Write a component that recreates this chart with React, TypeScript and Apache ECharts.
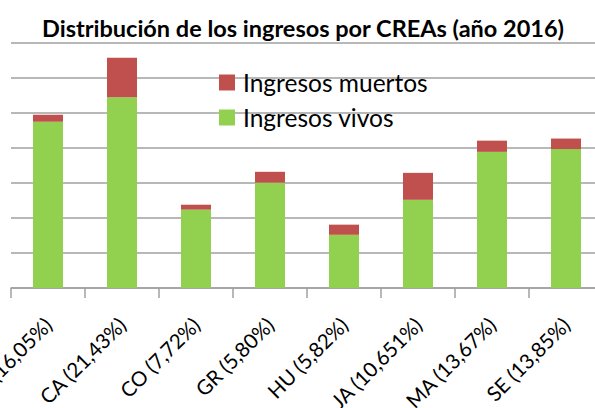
import React, { useEffect, useRef } from "react";
import * as echarts from "echarts";

const categories = [
  "AL (16,05%)",
  "CA (21,43%)",
  "CO (7,72%)",
  "GR (5,80%)",
  "HU (5,82%)",
  "JA (10,651%)",
  "MA (13,67%)",
  "SE (13,85%)",
];
const ingresosVivos = [4.75, 5.45, 2.24, 3.01, 1.52, 2.52, 3.89, 3.97];
const ingresosMuertos = [0.2, 1.13, 0.14, 0.31, 0.29, 0.77, 0.32, 0.3];
const yTicks = { min: 0, max: 7, interval: 1 };

const FONT = "Lato";

export default function App() {
  const ref = useRef<HTMLDivElement>(null);
  useEffect(() => {
    if (!ref.current) return;
    const chart = echarts.init(ref.current, null, { renderer: "svg" });
    chart.setOption({
      animation: false,
      backgroundColor: "#ffffff",
      title: {
        text: "Distribución de los ingresos por CREAs (año 2016)",
        left: 298,
        textAlign: "center",
        top: 11,
        textStyle: {
          fontFamily: FONT,
          fontWeight: "bold",
          fontSize: 23.5,
          color: "#000",
        },
      },
      legend: {
        orient: "vertical",
        left: 219,
        top: 70,
        itemWidth: 16,
        itemHeight: 16,
        itemGap: 10,
        icon: "rect",
        padding: 0,
        textStyle: {
          fontFamily: FONT,
          fontSize: 24.5,
          color: "#000",
          padding: [0, 0, 0, 3],
        },
        data: ["Ingresos muertos", "Ingresos vivos"],
      },
      grid: { left: 11, right: -8, top: 43, bottom: 120, containLabel: false, outerBoundsMode: "none" },
      xAxis: {
        type: "category",
        data: categories,
        axisLine: { show: true, lineStyle: { color: "#a0a0a0", width: 1.5 } },
        axisTick: { show: true, length: 10, alignWithLabel: false, lineStyle: { color: "#a0a0a0", width: 1.5 } },
        axisLabel: {
          rotate: 45,
          interval: 0,
          margin: 33,
          fontFamily: FONT,
          fontSize: 20.5,
          color: "#000",
        },
      },
      yAxis: {
        type: "value",
        min: yTicks.min,
        max: yTicks.max,
        interval: yTicks.interval,
        axisLine: { show: false },
        axisTick: { show: false },
        axisLabel: { show: false },
        splitLine: { show: true, lineStyle: { color: "#a0a0a0", width: 1.5 } },
      },
      series: [
        {
          name: "Ingresos vivos",
          type: "bar",
          stack: "total",
          barWidth: 30,
          data: ingresosVivos,
          itemStyle: { color: "#92D050" },
        },
        {
          name: "Ingresos muertos",
          type: "bar",
          stack: "total",
          barWidth: 30,
          data: ingresosMuertos,
          itemStyle: { color: "#C0504D" },
        },
      ],
    });
    return () => chart.dispose();
  }, []);
  return <div ref={ref} style={{ width: 595, height: 408, position: "absolute", left: 0, top: 0 }} />;
}
